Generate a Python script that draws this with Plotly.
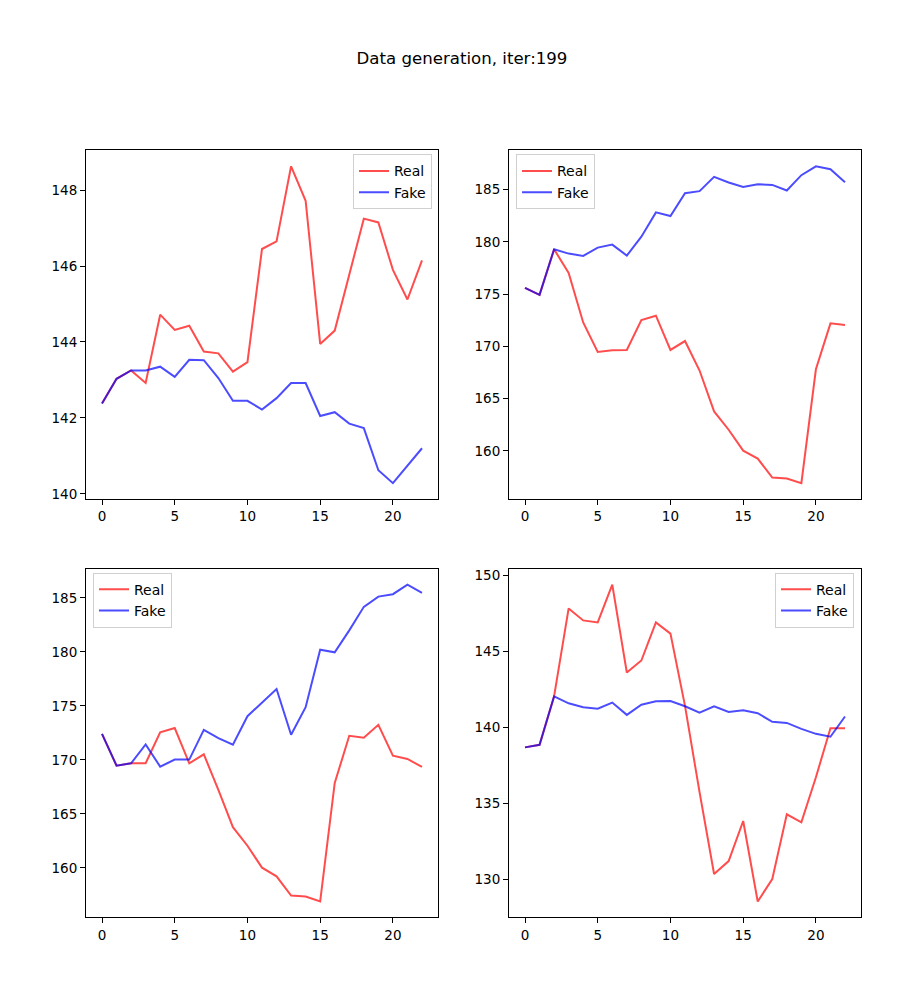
import plotly.graph_objects as go
from plotly.subplots import make_subplots

steps = list(range(23))

# panel 1 (top left)
real_1 = [142.38, 143.03, 143.25, 142.92, 144.72, 144.32, 144.43, 143.75, 143.70, 143.22, 143.47, 146.45,
          146.65, 148.63, 147.72, 143.95, 144.30, 145.78, 147.25, 147.15, 145.90, 145.12, 146.15]
fake_1 = [142.38, 143.03, 143.25, 143.25, 143.35, 143.08, 143.53, 143.52, 143.05, 142.45, 142.45, 142.22,
          142.52, 142.92, 142.92, 142.05, 142.15, 141.85, 141.73, 140.62, 140.28, 140.75, 141.20]

# panel 2 (top right)
real_2 = [175.60, 174.93, 179.28, 177.03, 172.29, 169.47, 169.62, 169.66, 172.52, 172.93, 169.66, 170.51,
          167.69, 163.78, 162.03, 160.03, 159.27, 157.46, 157.36, 156.92, 167.81, 172.20, 172.04]
fake_2 = [175.60, 174.93, 179.28, 178.87, 178.65, 179.44, 179.73, 178.68, 180.49, 182.81, 182.46, 184.65,
          184.84, 186.21, 185.67, 185.25, 185.51, 185.44, 184.90, 186.37, 187.22, 186.94, 185.70]

# panel 3 (bottom left)
real_3 = [172.42, 169.47, 169.69, 169.69, 172.55, 172.95, 169.69, 170.52, 167.23, 163.78, 162.06, 160.03,
          159.23, 157.45, 157.36, 156.90, 167.87, 172.24, 172.05, 173.25, 170.39, 170.09, 169.35]
fake_3 = [172.42, 169.47, 169.69, 171.44, 169.38, 170.03, 170.03, 172.79, 172.02, 171.41, 174.05, 175.34,
          176.57, 172.33, 174.88, 180.20, 179.96, 181.99, 184.17, 185.12, 185.34, 186.23, 185.46]

# panel 4 (bottom right)
real_4 = [138.67, 138.84, 142.03, 147.82, 147.03, 146.90, 149.39, 143.60, 144.39, 146.90, 146.16, 141.40,
          135.72, 130.33, 131.18, 133.82, 128.52, 130.00, 134.26, 133.73, 136.70, 139.93, 139.93]
fake_4 = [138.67, 138.84, 142.03, 141.57, 141.31, 141.22, 141.62, 140.81, 141.48, 141.70, 141.72, 141.38,
          140.96, 141.38, 141.00, 141.11, 140.92, 140.35, 140.28, 139.89, 139.56, 139.37, 140.70]

panels = [(real_1, fake_1), (real_2, fake_2), (real_3, fake_3), (real_4, fake_4)]
y_dtick = [2, 5, 5, 5]

W, H = 911, 993
OFF = 8  # page body margin


def px_x(p):
    return (p - OFF) / W


def px_y(p):
    return 1 - (p - OFF) / H


x_doms = [[px_x(86), px_x(438)], [px_x(509), px_x(861)]]
y_doms = [[px_y(499), px_y(149)], [px_y(919), px_y(569)]]

# legend boxes: (x, y, xanchor)
legend_pos = [(px_x(432), px_y(153), "right"), (px_x(516), px_y(153), "left"),
              (px_x(93), px_y(573), "left"), (px_x(854), px_y(573), "right")]

fig = make_subplots(rows=2, cols=2)

font = dict(family="DejaVu Sans", size=13.5, color="black")
leg_font = dict(family="DejaVu Sans", size=14, color="black")

for i, (real, fake) in enumerate(panels):
    row, col = i // 2 + 1, i % 2 + 1
    leg = "legend" if i == 0 else f"legend{i + 1}"
    fig.add_trace(go.Scatter(x=steps, y=real, mode="lines", name="Real",
                             line=dict(color="rgba(255,0,0,0.7)", width=2), legend=leg),
                  row=row, col=col)
    fig.add_trace(go.Scatter(x=steps, y=fake, mode="lines", name="Fake",
                             line=dict(color="rgba(0,0,255,0.7)", width=2), legend=leg),
                  row=row, col=col)

    lo = min(real + fake)
    hi = max(real + fake)
    pad = (hi - lo) * 0.05
    axis_style = dict(showline=True, mirror=True, linecolor="black", linewidth=1,
                      ticks="outside", ticklen=5, tickwidth=1, tickcolor="black",
                      showgrid=False, zeroline=False, tickfont=font)
    fig.update_xaxes(range=[-1.1, 23.1], dtick=5, tick0=0, domain=x_doms[col - 1],
                     row=row, col=col, **axis_style)
    fig.update_yaxes(range=[lo - pad, hi + pad], dtick=y_dtick[i], domain=y_doms[row - 1],
                     row=row, col=col, **axis_style)

    lx, ly, xa = legend_pos[i]
    fig.update_layout({leg: dict(x=lx, y=ly, xanchor=xa, yanchor="top", bgcolor="rgba(255,255,255,0.8)",
                                 bordercolor="#d0d0d0", borderwidth=1, font=leg_font,
                                 itemwidth=30, tracegroupgap=0)})

fig.update_layout(
    width=W, height=H,
    margin=dict(l=0, r=0, t=0, b=0),
    paper_bgcolor="white", plot_bgcolor="white",
    title=dict(text="Data generation, iter:199", x=px_x(462), xanchor="center",
               y=px_y(58), yanchor="middle",
               font=dict(family="DejaVu Sans", size=16.6, color="black")),
    showlegend=True,
)

fig.write_html("out.html")
